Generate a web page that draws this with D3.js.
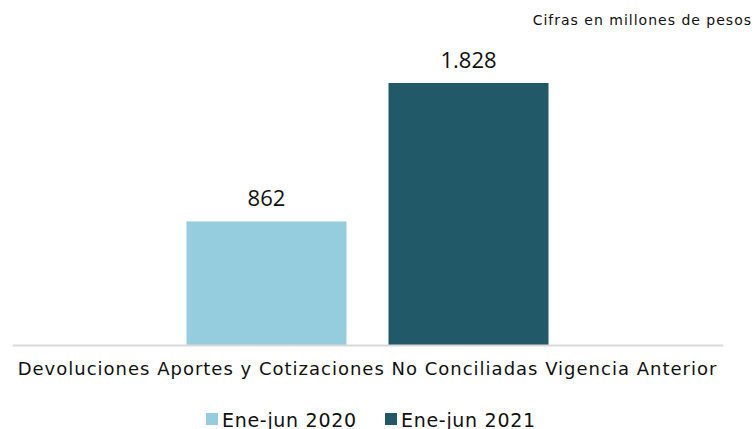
<!DOCTYPE html>
<html>
<head>
<meta charset="utf-8">
<script src="https://cdn.jsdelivr.net/npm/d3@7"></script>
<style>
  body { margin: 0; background: #fff; }
  svg { display: block; font-family: "DejaVu Sans", Verdana, sans-serif; }
</style>
</head>
<body>
<div id="chart"></div>
<script>
// data
var categories = ["Devoluciones Aportes y Cotizaciones No Conciliadas Vigencia Anterior"];
var seriesNames = ["Ene-jun 2020", "Ene-jun 2021"];
var seriesValues = [[862], [1828]];
var valueLabels = [["862"], ["1.828"]];
var colors = ["#95cdde", "#225968"];

var w = 755, h = 429;
var plotLeft = 12, plotRight = 723, plotTop = 83, base = 345;

var svg = d3.select("#chart").append("svg")
    .attr("width", w).attr("height", h);

var x0 = d3.scaleBand().domain(categories).range([plotLeft, plotRight])
    .paddingInner(0).paddingOuter(0.482);
var x1 = d3.scaleBand().domain(seriesNames).range([0, x0.bandwidth()])
    .paddingInner(0.208).paddingOuter(0);
var y = d3.scaleLinear().domain([0, 1828]).range([base, plotTop]);

// bars
categories.forEach(function (c, ci) {
    var g = svg.append("g").attr("transform", "translate(" + x0(c) + ",0)");
    seriesNames.forEach(function (s, si) {
        var v = seriesValues[si][ci];
        g.append("rect")
            .attr("x", x1(s))
            .attr("y", y(v))
            .attr("width", x1.bandwidth())
            .attr("height", base - y(v))
            .attr("fill", colors[si]);
        g.append("text")
            .attr("x", x1(s) + x1.bandwidth() / 2)
            .attr("y", y(v) - 15)
            .attr("text-anchor", "middle")
            .style("font-family", "'Open Sans', 'Noto Sans', sans-serif")
            .style("font-size", "22px")
            .attr("fill", "#111")
            .text(valueLabels[si][ci]);
    });
});

// baseline + category axis
var xAxis = d3.axisBottom(x0).tickSize(0).tickPadding(17);
var ax = svg.append("g").attr("transform", "translate(0," + base + ")").call(xAxis);
ax.select(".domain").attr("stroke", "#d9d9d9").attr("stroke-width", 2);
ax.selectAll("text")
    .style("font-family", "'DejaVu Sans', Verdana, sans-serif")
    .style("font-size", "18px")
    .style("letter-spacing", "1px")
    .attr("fill", "#111");

// note
svg.append("text")
    .attr("x", 752).attr("y", 25)
    .attr("text-anchor", "end")
    .style("font-size", "14px")
    .style("letter-spacing", "1px")
    .attr("fill", "#111")
    .text("Cifras en millones de pesos");

// legend
var legX = [206, 385];
seriesNames.forEach(function (s, i) {
    var lg = svg.append("g").attr("transform", "translate(" + legX[i] + ",413)");
    lg.append("rect").attr("x", 0).attr("y", 0).attr("width", 12).attr("height", 12)
        .attr("fill", colors[i]);
    lg.append("text").attr("x", 16).attr("y", 14)
        .style("font-size", "19px")
        .style("letter-spacing", "0.7px")
        .attr("fill", "#111")
        .text(s);
});
</script>
</body>
</html>
